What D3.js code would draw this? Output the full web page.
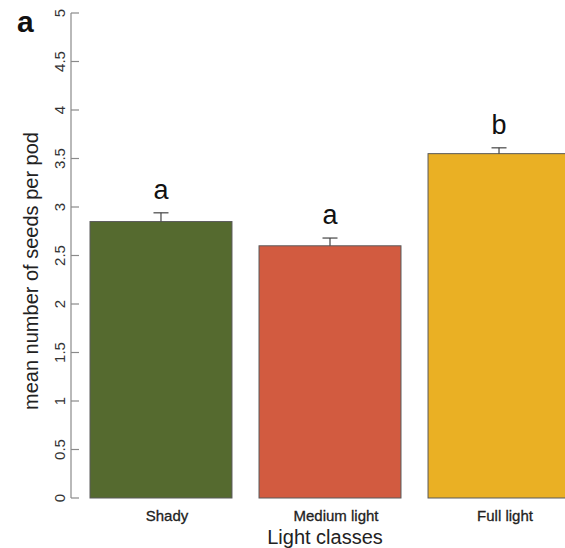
<!DOCTYPE html>
<html>
<head>
<meta charset="utf-8">
<script src="https://cdn.jsdelivr.net/npm/d3@7"></script>
<style>
  html, body { margin: 0; padding: 0; background: #fff; }
  svg { display: block; font-family: "Liberation Sans", Arial, sans-serif; }
</style>
</head>
<body>
<svg id="chart" width="565" height="548"></svg>
<script>
// Light classes and mean seeds per pod with standard error
const categories = ["Shady", "Medium light", "Full light"];
const means = [2.85, 2.60, 3.55];
const errors = [0.09, 0.08, 0.06];
const groupLetters = ["a", "a", "b"];
const barColors = ["#556a2f", "#d25b40", "#eab024"];
const yTicks = [0, 0.5, 1, 1.5, 2, 2.5, 3, 3.5, 4, 4.5, 5];

const svg = d3.select("#chart");

const y = d3.scaleLinear().domain([0, 5]).range([498, 13]);
const x = d3.scaleBand().domain(categories).range([90, 570])
  .paddingInner(0.16).paddingOuter(0);

// Bars
svg.append("g").selectAll("rect")
  .data(categories)
  .join("rect")
  .attr("x", d => x(d))
  .attr("y", (d, i) => y(means[i]))
  .attr("width", x.bandwidth())
  .attr("height", (d, i) => y(0) - y(means[i]))
  .attr("fill", (d, i) => barColors[i])
  .attr("stroke", "#5a5a5a")
  .attr("stroke-width", 1);

// Error bars (upper half)
const eb = svg.append("g").attr("stroke", "#444").attr("stroke-width", 1.2);
categories.forEach((c, i) => {
  const cx = x(c) + x.bandwidth() / 2;
  eb.append("line").attr("x1", cx).attr("x2", cx)
    .attr("y1", y(means[i])).attr("y2", y(means[i] + errors[i]));
  eb.append("line").attr("x1", cx - 7.5).attr("x2", cx + 7.5)
    .attr("y1", y(means[i] + errors[i])).attr("y2", y(means[i] + errors[i]));
});

// Significance letters
svg.append("g").selectAll("text")
  .data(categories)
  .join("text")
  .attr("x", d => x(d) + x.bandwidth() / 2)
  .attr("y", (d, i) => y(means[i] + errors[i]) - 14)
  .attr("text-anchor", "middle")
  .attr("font-size", 27)
  .attr("fill", "#111")
  .text((d, i) => groupLetters[i]);

// Y axis: line with inward ticks, rotated labels
const axisX = 71;
const ax = svg.append("g");
ax.append("line")
  .attr("x1", axisX).attr("x2", axisX)
  .attr("y1", y(0)).attr("y2", y(5))
  .attr("stroke", "#8a8a8a").attr("stroke-width", 1.2);
ax.selectAll("line.tick")
  .data(yTicks)
  .join("line")
  .attr("class", "tick")
  .attr("x1", axisX).attr("x2", axisX + 8)
  .attr("y1", d => y(d)).attr("y2", d => y(d))
  .attr("stroke", "#8a8a8a").attr("stroke-width", 1.2);
ax.selectAll("text")
  .data(yTicks)
  .join("text")
  .attr("transform", d => `translate(64.5,${y(d)}) rotate(-90)`)
  .attr("text-anchor", "middle")
  .attr("font-size", 15)
  .attr("fill", "#333")
  .text(d => String(d));

// Y axis title
svg.append("text")
  .attr("transform", `translate(31,271) rotate(-90)`)
  .attr("text-anchor", "middle")
  .attr("dy", "0.35em")
  .attr("font-size", 20)
  .attr("fill", "#222")
  .text("mean number of seeds per pod");

// Category labels
svg.append("g").selectAll("text")
  .data(categories)
  .join("text")
  .attr("x", d => x(d) + x.bandwidth() / 2 + 6)
  .attr("y", 521)
  .attr("text-anchor", "middle")
  .attr("font-size", 15)
  .attr("fill", "#222")
  .attr("stroke", "#222")
  .attr("stroke-width", 0.3)
  .text(d => d);

// X axis title
svg.append("text")
  .attr("x", 325).attr("y", 544)
  .attr("text-anchor", "middle")
  .attr("font-size", 20)
  .attr("fill", "#222")
  .text("Light classes");

// Panel label
svg.append("text")
  .attr("x", 17).attr("y", 32)
  .attr("font-size", 30)
  .attr("font-weight", "bold")
  .attr("fill", "#111")
  .text("a");
</script>
</body>
</html>
